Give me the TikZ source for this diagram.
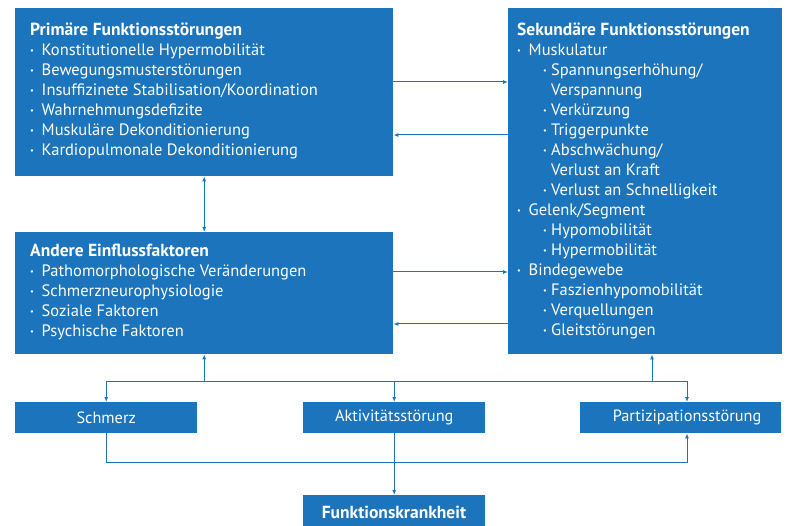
\documentclass[tikz,border=0pt]{standalone}
\usepackage{fontspec}
\usepackage{graphicx}
\setmainfont{PT Sans}
\usetikzlibrary{arrows.meta}
\definecolor{bl}{HTML}{1C75BC}
\newcommand\bu{\makebox[11.5pt][l]{\raisebox{0.25ex}{\scalebox{0.5}{\textbullet}}}}
\newcommand\bub{\makebox[8pt][l]{\raisebox{0.25ex}{\scalebox{0.5}{\textbullet}}}}
\newcommand\ttl[1]{{\fontsize{17.5}{20}\selectfont\bfseries #1}}
\tikzset{
  box/.style={fill=bl, draw=none, inner sep=0pt, anchor=north west},
  txt/.style={anchor=north west, inner sep=0pt, align=left, text=white, font=\fontsize{16.5}{20}\selectfont},
  small/.style={text=white, font=\fontsize{16.3}{18}\selectfont},
  con/.style={draw=bl, line width=1pt},
  arr/.style={con, -{Latex[length=5pt,width=4pt]}},
  darr/.style={con, {Latex[length=5pt,width=4pt]}-{Latex[length=5pt,width=4pt]}}
}
\begin{document}
\begin{tikzpicture}[x=1pt,y=-1pt]
\useasboundingbox (0,0) rectangle (792,526);
% boxes
\node[box, minimum width=378pt, minimum height=168pt] (prim) at (15,8) {};
\node[box, minimum width=274pt, minimum height=346pt] (sek) at (508,8) {};
\node[box, minimum width=378pt, minimum height=122pt] (and) at (15,232) {};
\node[box, minimum width=182pt, minimum height=31pt] (schm) at (15,402) {};
\node[box, minimum width=182pt, minimum height=31pt] (akt) at (303,402) {};
\node[box, minimum width=201pt, minimum height=31pt] (part) at (580,402) {};
\node[box, minimum width=182pt, minimum height=33pt] (funk) at (303,495) {};
% texts
\node[txt] (primtxt) at (30,23) {\ttl{Primäre Funktionsstörungen}\\
\bu Konstitutionelle Hypermobilität\\
\bu Bewegungsmusterstörungen\\
\bu Insuffizinete Stabilisation/Koordination\\
\bu Wahrnehmungsdefizite\\
\bu Muskuläre Dekonditionierung\\
\bu Kardiopulmonale Dekonditionierung};
\node[txt] (sektxt) at (517,23) {\ttl{Sekundäre Funktionsstörungen}\\
\bu Muskulatur\\
\hspace*{26pt}\bub Spannungserhöhung/\\
\hspace*{34pt}Verspannung\\
\hspace*{26pt}\bub Verkürzung\\
\hspace*{26pt}\bub Triggerpunkte\\
\hspace*{26pt}\bub Abschwächung/\\
\hspace*{34pt}Verlust an Kraft\\
\hspace*{26pt}\bub Verlust an Schnelligkeit\\
\bu Gelenk/Segment\\
\hspace*{26pt}\bub Hypomobilität\\
\hspace*{26pt}\bub Hypermobilität\\
\bu Bindegewebe\\
\hspace*{26pt}\bub Faszienhypomobilität\\
\hspace*{26pt}\bub Verquellungen\\
\hspace*{26pt}\bub Gleitstörungen};
\node[txt] (andtxt) at (30,244) {\ttl{Andere Einflussfaktoren}\\
\bu Pathomorphologische Veränderungen\\
\bu Schmerzneurophysiologie\\
\bu Soziale Faktoren\\
\bu Psychische Faktoren};
\node[small] (schmtxt) at (schm.center) {Schmerz};
\node[small] (akttxt) at (akt.center) {Aktivitätsstörung};
\node[small] (parttxt) at (687,417.5) {Partizipationsstörung};
\node[small, font=\bfseries\fontsize{17.5}{18}\selectfont] (funktxt) at (394,512) {Funktionskrankheit};
% helper coordinates
\coordinate (y1) at (0,82);
\coordinate (y2) at (0,135);
\coordinate (y3) at (0,272);
\coordinate (y4) at (0,324);
\coordinate (jy) at (0,381);
\coordinate (ly) at (0,462);
\coordinate (sx) at (652,0);
\coordinate (px) at (687,0);
% connectors
\draw[darr] (prim.south) -- (and.north);
\draw[arr] (prim.east |- y1) -- (sek.west |- y1);
\draw[arr] (sek.west |- y2) -- (prim.east |- y2);
\draw[arr] (and.east |- y3) -- (sek.west |- y3);
\draw[arr] (sek.west |- y4) -- (and.east |- y4);
\draw[con] (schm.north |- jy) -- (px |- jy);
\draw[arr] (and.south |- jy) -- (and.south);
\draw[arr] (sx |- jy) -- (sx |- sek.south);
\draw[arr] (schm.north |- jy) -- (schm.north);
\draw[arr] (akt.north |- jy) -- (akt.north);
\draw[arr] (px |- jy) -- (px |- part.north);
\draw[arr] (schm.south) -- (schm.south |- ly) -- (px |- ly) -- (px |- part.south);
\draw[arr] (akt.south) -- (funk.north);
\end{tikzpicture}
\end{document}
